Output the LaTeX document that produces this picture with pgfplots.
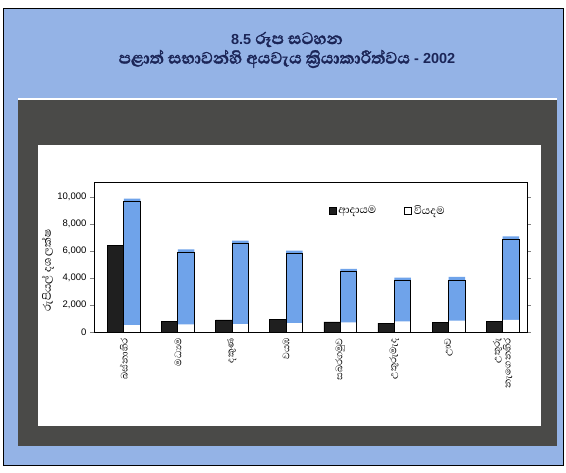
\documentclass[border=0pt]{standalone}
\usepackage{pgfplots}
\pgfplotsset{compat=1.18}
\usepackage{fontspec}
\setmainfont{Liberation Sans}
\newfontfamily\sinhala[Script=Sinhala, Scale=1.45]{Abhaya Libre}
\newfontfamily\sinhalabold[Script=Sinhala, Scale=1.45, FakeBold=1.6]{Abhaya Libre}
\definecolor{bgblue}{HTML}{94B3E6}
\definecolor{framegray}{HTML}{4A4A48}
\definecolor{barblue}{HTML}{6FA3EA}
\definecolor{titlenavy}{HTML}{1B2557}
\begin{document}
\begin{tikzpicture}[x=1pt,y=1pt]
\fill[white] (0,0) rectangle (566,473);
\fill[bgblue] (3,7) rectangle (563,464);
\draw[black, line width=1pt] (3,7) rectangle (563,464);
\fill[framegray] (18,27) rectangle (557,373);
\draw[white, line width=1.2pt] (18,374) -- (557,374);
\fill[white] (38,47) rectangle (541,328);
\node[inner sep=0pt, text=titlenavy, font=\bfseries\fontsize{14.5}{16}\selectfont] at (287,433.5) {8.5 {\sinhalabold රූප සටහන}};
\node[inner sep=0pt, text=titlenavy, font=\bfseries\fontsize{14.5}{16}\selectfont] at (287,414) {{\sinhalabold පළාත් සභාවන්හි අයවැය ක්‍රියාකාරීත්වය} - 2002};
\begin{scope}[shift={(94,141)}]
\begin{axis}[
  at={(0,0)}, anchor=south west,
  scale only axis, width=433pt, height=150pt,
  ybar, bar width=16.5pt,
  xmin=-0.55, xmax=7.45, ymin=0, ymax=11100,
  xtick={0,1,2,3,4,5,6,7},
  xticklabels={බස්නාහිර, මධ්‍යම, දකුණ, වයඹ, සබරගමුව, උතුරුමැද, ඌව, {උතුරු\\නැගෙනහිර}},
  xticklabel style={rotate=90, anchor=east, align=right, font=\sinhala\fontsize{8.3}{8.5}\selectfont, inner sep=2pt},
  xtick style={draw=none},
  ytick={0,2000,4000,6000,8000,10000},
  scaled y ticks=false,
  yticklabel style={font=\fontsize{9.5}{11}\selectfont},
  /pgf/number format/1000 sep={,},
  /pgf/number format/assume math mode=true,
  tick align=outside, major tick length=4pt,
  ylabel={\sinhala රුපියල් දශ ලක්ෂ},
  ylabel style={at={(axis description cs:-0.106,0.41)}, anchor=center, font=\fontsize{9.5}{11}\selectfont},
  axis line style={black, line width=0.6pt},
  legend style={at={(0.535,0.81)}, anchor=west, draw=none, fill=none, legend columns=2,
    font=\sinhala\fontsize{9.5}{12}\selectfont,
    /tikz/every even column/.append style={column sep=26pt}},
  legend image code/.code={\draw[#1] (0pt,-3.5pt) rectangle (7pt,3.5pt);},
]
\addplot[forget plot, fill=black!88, draw=black, bar shift=-8.25pt] coordinates {
(0,6400) (1,800) (2,900) (3,950) (4,750) (5,650) (6,720) (7,800)};
\addplot[forget plot, fill=barblue, draw=none, bar shift=8.25pt] coordinates {
(0,9870) (1,6120) (2,6770) (3,6020) (4,4670) (5,4020) (6,4070) (7,7070)};
\addplot[forget plot, fill=white, draw=none, bar shift=8.25pt] coordinates {
(0,500) (1,570) (2,580) (3,660) (4,720) (5,790) (6,850) (7,900)};
\addplot[forget plot, fill=none, draw=black, line width=0.9pt, bar shift=8.25pt] coordinates {
(0,9650) (1,5900) (2,6550) (3,5800) (4,4450) (5,3800) (6,3850) (7,6850)};
\addlegendimage{fill=black!88, draw=black}
\addlegendentry{ආදායම}
\addlegendimage{fill=white, draw=black, line width=0.9pt}
\addlegendentry{වියදම}
\end{axis}
\end{scope}
\pgfresetboundingbox
\path[use as bounding box] (0,0) rectangle (566,473);
\end{tikzpicture}
\end{document}
